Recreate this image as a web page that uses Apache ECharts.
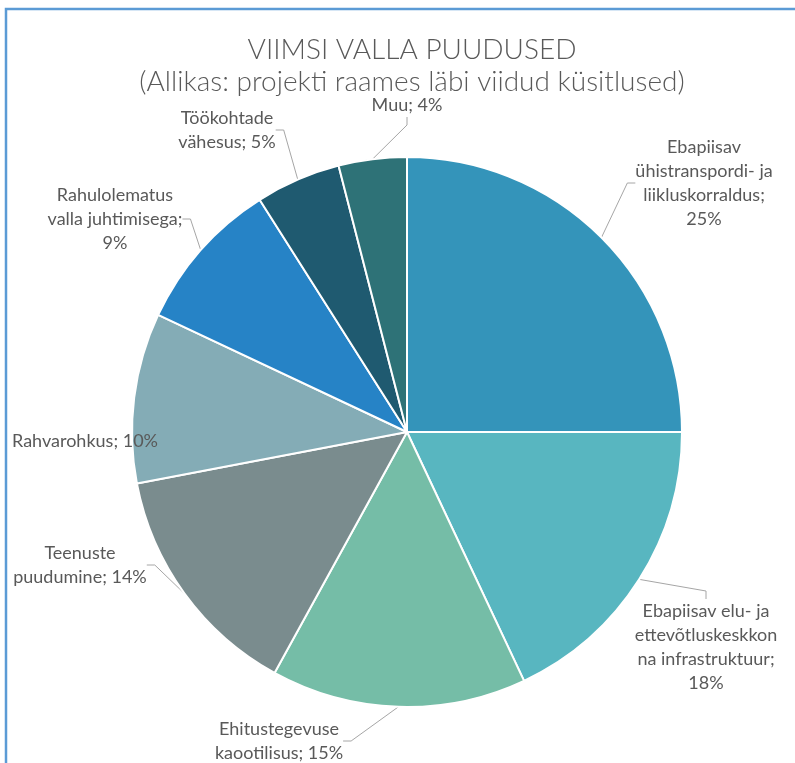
<!DOCTYPE html>
<html>
<head>
<meta charset="utf-8">
<script src="https://cdn.jsdelivr.net/npm/echarts@6/dist/echarts.min.js"></script>
<style>
  html, body { margin: 0; padding: 0; background: #fff; }
  #chart { width: 795px; height: 763px; }
</style>
</head>
<body>
<div id="chart"></div>
<script>
const categories = [
  'Ebapiisav ühistranspordi- ja liikluskorraldus',
  'Ebapiisav elu- ja ettevõtluskeskkonna infrastruktuur',
  'Ehitustegevuse kaootilisus',
  'Teenuste puudumine',
  'Rahvarohkus',
  'Rahulolematus valla juhtimisega',
  'Töökohtade vähesus',
  'Muu'
]
const values = [25, 18, 15, 14, 10, 9, 5, 4]
// label text as it wraps in the picture
const wrapped = [
  'Ebapiisav\nühistranspordi- ja\nliikluskorraldus;\n',
  'Ebapiisav elu- ja\nettevõtluskeskkon\nna infrastruktuur;\n',
  'Ehitustegevuse\nkaootilisus; ',
  'Teenuste\npuudumine; ',
  'Rahvarohkus; ',
  'Rahulolematus\nvalla juhtimisega;\n',
  'Töökohtade\nvähesus; ',
  'Muu; '
]
const colors = ['#3494BA', '#58B6C0', '#75BDA7', '#7A8C8E', '#84ACB6', '#2683C6', '#1F5A70', '#2E7277']

// where each label sits (center of text block)
const labelPos = [
  [704, 183], [706, 647], [279, 741], [80, 565],
  [85, 441], [115, 219], [227, 130], [407, 105]
]

const chart = echarts.init(document.getElementById('chart'))
chart.setOption({
  backgroundColor: '#fff',
  animation: false,
  title: {
    text: 'VIIMSI VALLA PUUDUSED\n(Allikas: projekti raames läbi viidud küsitlused)',
    left: 407,
    textAlign: 'center',
    top: 29,
    textStyle: {
      fontFamily: 'Lato',
      fontWeight: 300,
      fontSize: 28,
      lineHeight: 32,
      color: '#595959'
    }
  },
  graphic: [{
    type: 'rect',
    shape: { x: 6, y: 9, width: 820, height: 800 },
    style: { fill: 'none', stroke: '#5B9BD5', lineWidth: 2.5 },
    silent: true
  }],
  series: [{
    type: 'pie',
    center: [407, 432],
    radius: 275,
    startAngle: 90,
    clockwise: true,
    avoidLabelOverlap: false,
    data: categories.map((c, i) => ({
      name: c,
      value: values[i],
      itemStyle: { color: colors[i] },
      labelLine: { show: i !== 4 }
    })),
    itemStyle: { borderColor: '#fff', borderWidth: 2 },
    label: {
      show: true,
      position: 'outside',
      formatter: p => wrapped[p.dataIndex] + p.value + '%',
      fontFamily: 'Lato',
      fontSize: 18,
      lineHeight: 24,
      color: '#595959',
      align: 'center'
    },
    labelLine: {
      show: true,
      length: 15,
      length2: 8,
      lineStyle: { color: '#A6A6A6', width: 1 }
    },
    labelLayout: function (params) {
      const p = labelPos[params.dataIndex]
      return {
        x: p[0],
        y: p[1],
        align: 'center',
        verticalAlign: 'middle'
      }
    }
  }]
})
</script>
</body>
</html>
